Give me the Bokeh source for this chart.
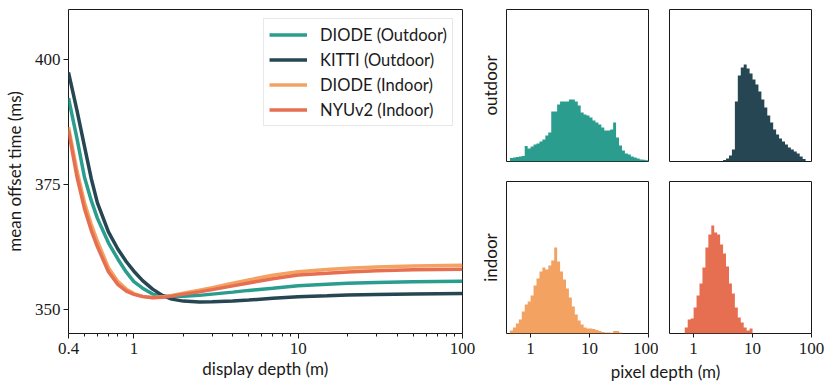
import numpy as np
from bokeh.plotting import figure
from bokeh.layouts import row, column
from bokeh.models import Range1d, FixedTicker, CustomJSTickFormatter, Label
from bokeh.embed import file_html
from bokeh.resources import INLINE

# ---------------- data: left panel (mean offset time vs display depth) ----------------
display_depth = [0.4, 0.45, 0.5, 0.55, 0.6, 0.7, 0.8, 0.9, 1.0, 1.13, 1.3, 1.5, 1.7,
                 2.0, 2.5, 3.0, 4.0, 5.0, 7.0, 10, 15, 20, 30, 50, 100]
diode_outdoor = [392.3, 384.3, 376.5, 371.8, 368.2, 363.3, 360.0, 357.4, 355.5, 354.2, 353.0,
                 352.6, 352.5, 352.55, 352.75, 353.0, 353.4, 353.75, 354.2, 354.7, 355.0,
                 355.2, 355.35, 355.5, 355.6]
kitti_outdoor = [397.5, 389.9, 382.7, 376.2, 371.3, 365.5, 362.0, 359.5, 357.6, 355.7, 354.0,
                 352.7, 352.0, 351.6, 351.4, 351.45, 351.6, 351.8, 352.15, 352.45, 352.65,
                 352.8, 352.9, 353.0, 353.1]
diode_indoor = [386.5, 377.8, 371.4, 367.0, 363.6, 358.3, 355.5, 354.0, 353.1, 352.55, 352.3,
                352.45, 352.75, 353.2, 353.8, 354.3, 355.2, 355.85, 356.8, 357.5, 357.95,
                358.2, 358.45, 358.65, 358.8]
nyu_indoor = [385.8, 376.6, 370.2, 365.8, 362.5, 357.5, 354.9, 353.6, 352.95, 352.5, 352.25,
              352.35, 352.6, 353.0, 353.45, 353.9, 354.65, 355.25, 356.1, 356.85, 357.2,
              357.45, 357.7, 357.9, 358.0]
series_names = ["DIODE (Outdoor)", "KITTI (Outdoor)", "DIODE (Indoor)", "NYUv2 (Indoor)"]
x_major_ticks = [0.4, 1, 10, 100]
x_minor_ticks = [0.5, 0.6, 0.7, 0.8, 0.9, 2, 3, 4, 5, 6, 7, 8, 9,
                 20, 30, 40, 50, 60, 70, 80, 90]
y_ticks = [350, 375, 400]

# ---------------- data: histograms of pixel depth (log10 bins of width 0.05 from 0.4 m) ----------------
bin_log_start = -0.40
bin_log_width = 0.05
n_bins = 48
hist_diode_outdoor = [0, 3.5, 4, 4.5, 5, 5.5, 15.5, 13, 15, 17, 18, 20, 22, 26, 29, 50, 50, 57,
                      60, 60, 60, 62, 62, 60, 56, 49, 47, 46, 44, 41, 39, 37, 34, 31, 31, 32,
                      39, 24, 16, 11, 8, 7, 5, 4, 3, 2, 1.7, 1.2]
hist_kitti_outdoor = [0, 0, 0, 0, 0, 0, 0, 0, 0, 0, 0, 0, 0, 0, 0, 0, 0, 0,
                      1.5, 3, 6, 12, 60, 86, 94, 97, 93, 88, 82, 77, 70, 62, 54, 46, 39, 32,
                      27, 23, 20, 17, 14, 12, 10, 8, 5, 2.5, 0, 0]
hist_diode_indoor = [0, 3, 6, 10, 14, 22, 29, 32, 38, 48, 55, 62, 66, 64, 68, 73, 86, 72,
                     62, 54, 45, 36, 27, 19, 13, 9, 6, 5, 5, 4.5, 3.5, 2.5, 1.5, 1, 1, 0.8,
                     2.5, 2.5, 1, 0, 0, 0, 0, 0, 0, 0, 0, 0]
hist_nyu_indoor = [0, 0, 0, 0, 0, 6, 14, 15, 26, 38, 50, 66, 86, 99, 108, 101, 99, 89,
                   80, 67, 50, 40, 26, 16, 11, 6, 3, 5, 0, 0, 0, 0, 0, 0, 0, 0,
                   0, 0, 0, 0, 0, 0, 0, 0, 0, 0, 0, 0]
hist_ymax = 152
hist_ticks = [1, 10, 100]

COLORS = ["#2a9d8f", "#264653", "#f4a261", "#e76f51"]
TXT_FONT = "Lato"
NUM_FONT = "Liberation Serif"
INK = "#1a1a1a"

fmt = CustomJSTickFormatter(code="return tick < 1 ? tick.toFixed(1) : tick.toFixed(0);")

# ---------------- left figure ----------------
left = figure(x_axis_type="log", x_range=Range1d(0.4, 100), y_range=Range1d(345.1, 410.1),
              frame_width=394, frame_height=324, output_backend="svg", toolbar_location=None,
              min_border_left=61, min_border_right=14, min_border_top=9, min_border_bottom=40)
left.grid.visible = False
left.outline_line_color = INK
left.outline_line_width = 1
for s, name, col in zip([diode_outdoor, kitti_outdoor, diode_indoor, nyu_indoor], series_names, COLORS):
    left.line(display_depth, s, line_color=col, line_width=3.5, legend_label=name)

left.xaxis.ticker = FixedTicker(ticks=x_major_ticks, minor_ticks=x_minor_ticks)
left.xaxis.formatter = fmt
left.yaxis.ticker = FixedTicker(ticks=y_ticks, minor_ticks=[])
left.xaxis.axis_label = "display depth (m)"
left.yaxis.axis_label = "mean offset time (ms)"
for ax in [left.xaxis[0], left.yaxis[0]]:
    ax.axis_line_color = None
    ax.major_tick_line_color = INK
    ax.minor_tick_line_color = INK
    ax.major_tick_out = 5
    ax.major_tick_in = 0
    ax.minor_tick_out = 3
    ax.minor_tick_in = 0
    ax.major_label_text_font = NUM_FONT
    ax.major_label_text_font_size = "17px"
    ax.major_label_text_color = INK
    ax.axis_label_text_font = TXT_FONT
    ax.axis_label_text_font_size = "17px"
    ax.axis_label_text_font_style = "normal"
    ax.axis_label_text_color = INK
left.xaxis.major_label_standoff = 4
left.xaxis.axis_label_standoff = 1
left.yaxis.major_label_standoff = 3
left.yaxis.axis_label_standoff = 7

lg = left.legend[0]
lg.location = "top_right"
lg.margin = 9
lg.padding = 5
lg.spacing = 4
lg.glyph_height = 21
lg.glyph_width = 38
lg.label_height = 21
lg.label_standoff = 13
lg.label_text_font = TXT_FONT
lg.label_text_font_size = "16.5px"
lg.label_text_color = INK
lg.border_line_color = "#d0d0d0"
lg.border_line_width = 1
lg.background_fill_alpha = 0.85

# ---------------- histogram figures ----------------
edges = 10 ** (bin_log_start + bin_log_width * np.arange(n_bins + 1))


def hist_fig(vals, color, ylabel=None, show_x=False, bl=11, br=10, bt=9, bb=10):
    p = figure(x_axis_type="log", x_range=Range1d(0.39, 100), y_range=Range1d(0, hist_ymax),
               frame_width=142, frame_height=152, output_backend="svg", toolbar_location=None,
               min_border_left=bl, min_border_right=br, min_border_top=bt, min_border_bottom=bb)
    p.grid.visible = False
    p.outline_line_color = INK
    p.outline_line_width = 1
    p.varea_step(x=edges, y1=0, y2=list(vals) + [vals[-1]], step_mode="after",
                 fill_color=color)
    if show_x:
        ax = p.xaxis[0]
        ax.ticker = FixedTicker(ticks=hist_ticks, minor_ticks=[])
        ax.formatter = fmt
        ax.axis_line_color = None
        ax.major_tick_line_color = INK
        ax.major_tick_out = 4
        ax.major_tick_in = 0
        ax.major_label_standoff = 5
        ax.major_label_text_font = NUM_FONT
        ax.major_label_text_font_size = "17px"
        ax.major_label_text_color = INK
    else:
        p.xaxis.visible = False
    if ylabel:
        ay = p.yaxis[0]
        ay.ticker = FixedTicker(ticks=[], minor_ticks=[])
        ay.axis_line_color = None
        ay.major_tick_line_color = None
        ay.minor_tick_line_color = None
        ay.major_label_text_font_size = "0px"
        ay.axis_label = ylabel
        ay.axis_label_text_font = TXT_FONT
        ay.axis_label_text_font_size = "17px"
        ay.axis_label_text_font_style = "normal"
        ay.axis_label_text_color = INK
        ay.axis_label_standoff = 6
    else:
        p.yaxis.visible = False
    return p


h_tl = hist_fig(hist_diode_outdoor, COLORS[0], ylabel="outdoor", bl=26, br=10, bt=9, bb=10)
h_tr = hist_fig(hist_kitti_outdoor, COLORS[1], bl=11, br=15, bt=9, bb=10)
h_bl = hist_fig(hist_diode_indoor, COLORS[2], ylabel="indoor", show_x=True, bl=26, br=10, bt=10, bb=28)
h_br = hist_fig(hist_nyu_indoor, COLORS[3], show_x=True, bl=11, br=15, bt=10, bb=28)

lab = figure(width=346, height=24, x_range=Range1d(0, 1), y_range=Range1d(0, 1),
             output_backend="svg", toolbar_location=None, min_border=0)
lab.axis.visible = False
lab.grid.visible = False
lab.outline_line_color = None
lab.add_layout(Label(x=189, y=14, x_units="screen", y_units="screen", text="pixel depth (m)",
                     text_align="center", text_baseline="middle", text_font=TXT_FONT,
                     text_font_size="17px", text_color=INK))

right = column(row(h_tl, h_tr, spacing=0), row(h_bl, h_br, spacing=0), lab, spacing=0)
layout = row(left, right, spacing=0)

open("out.html", "w").write(file_html(layout, INLINE))
